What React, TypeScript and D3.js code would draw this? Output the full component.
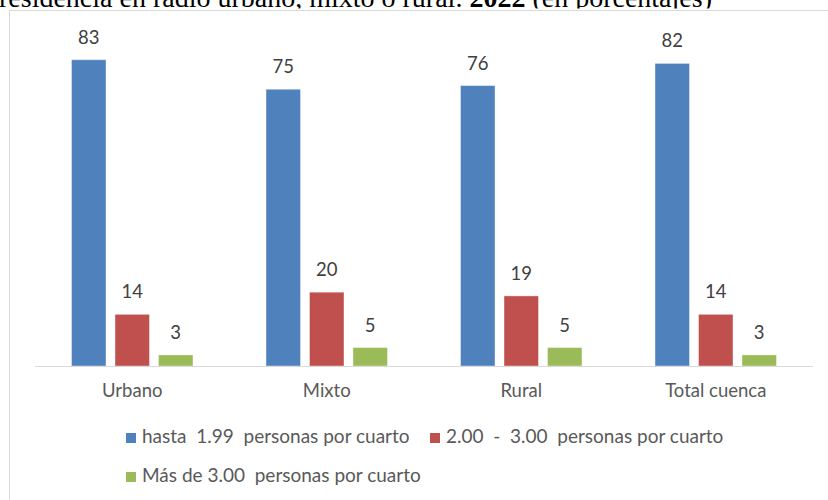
import React from 'react';
import * as d3 from 'd3';

// datos
const categorias = ['Urbano', 'Mixto', 'Rural', 'Total cuenca'];
const series = ['hasta  1.99  personas por cuarto', '2.00  -  3.00  personas por cuarto', 'Más de 3.00  personas por cuarto'];
const hasta199 = [83, 75, 76, 82];
const de2a3 = [14, 20, 19, 14];
const masDe3 = [3, 5, 5, 3];
const colores = ['#4F81BD', '#C0504D', '#9BBB59'];

const W = 828;
const H = 500;
const base = 366;

export default function App() {
	const valores = [hasta199, de2a3, masDe3];

	const x = d3.scaleBand<string>()
		.domain(categorias)
		.range([35, 813]);

	const xi = d3.scaleBand<number>()
		.domain([0, 1, 2])
		.range([0, x.bandwidth()])
		.paddingInner(0.207)
		.paddingOuter(0.84);

	const y = d3.scaleLinear()
		.domain([0, 90])
		.range([base, base - 90 * 3.69]);

	const font = "Lato, 'Open Sans', sans-serif";
	const fs = 18.5;
	const texto = '#595959';

	return (
		<svg width={W} height={H} style={{ position: 'absolute', left: 0, top: 0, background: '#fff' }}>
			<defs>
				<clipPath id="recorte-titulo">
					<rect x={0} y={0} width={W} height={8.5} />
				</clipPath>
			</defs>

			{/* título, cortado arriba y abajo como en el original */}
			<text
				x={-1}
				y={7}
				clipPath="url(#recorte-titulo)"
				fontFamily="'Liberation Serif', 'Times New Roman', serif"
				fontSize={28}
				fill="#000"
			>
				residencia en radio urbano, mixto o rural. <tspan fontWeight="bold">2022</tspan> (en porcentajes)
			</text>

			{/* marco del gráfico */}
			<rect x={9.5} y={10.5} width={W} height={H} fill="none" stroke="#d9d9d9" strokeWidth={1} />

			{/* barras */}
			{valores.map((serie, si) => (
				<g key={si}>
					{serie.map((v, ci) => {
						const bx = (x(categorias[ci]) ?? 0) + (xi(si) ?? 0);
						return (
							<g key={ci}>
								<rect
									x={bx}
									y={y(v)}
									width={xi.bandwidth()}
									height={base - y(v)}
									fill={colores[si]}
									stroke="#ffffff"
									strokeOpacity={0.4}
									strokeWidth={1}
								/>
								<text
									x={bx + xi.bandwidth() / 2}
									y={y(v) - 16}
									textAnchor="middle"
									fontFamily={font}
									fontSize={fs}
									fill="#404040"
								>
									{v}
								</text>
							</g>
						);
					})}
				</g>
			))}

			{/* eje */}
			<line x1={35} x2={813} y1={base + 0.5} y2={base + 0.5} stroke="#d9d9d9" strokeWidth={1} />
			{categorias.map(c => (
				<text
					key={c}
					x={(x(c) ?? 0) + x.bandwidth() / 2}
					y={397}
					textAnchor="middle"
					fontFamily={font}
					fontSize={fs}
					fill={texto}
				>
					{c}
				</text>
			))}

			{/* leyenda */}
			{[
				{ i: 0, lx: 126, ly: 443 },
				{ i: 1, lx: 430, ly: 443 },
				{ i: 2, lx: 126, ly: 482 },
			].map(({ i, lx, ly }) => (
				<g key={i} transform={`translate(${lx},${ly})`}>
					<rect x={0} y={-10} width={10} height={10} fill={colores[i]} />
					<text x={16} y={0} fontFamily={font} fontSize={19} fill={texto} style={{ whiteSpace: 'pre' }}>
						{series[i]}
					</text>
				</g>
			))}
		</svg>
	);
}
